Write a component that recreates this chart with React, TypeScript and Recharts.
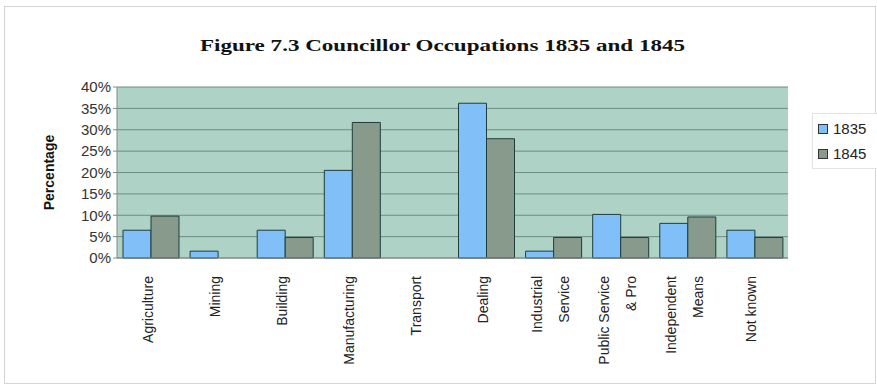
import React from 'react'
import { BarChart, Bar, XAxis, YAxis, CartesianGrid } from 'recharts'

const CATEGORIES = [
  'Agriculture',
  'Mining',
  'Building',
  'Manufacturing',
  'Transport',
  'Dealing',
  'Industrial\nService',
  'Public Service\n& Pro',
  'Independent\nMeans',
  'Not known',
]
const Y1835 = [6.5, 1.6, 6.5, 20.5, 0, 36.2, 1.6, 10.2, 8.1, 6.5]
const Y1845 = [9.8, 0, 4.8, 31.7, 0, 27.9, 4.8, 4.8, 9.6, 4.8]
const Y_TICKS = [0, 5, 10, 15, 20, 25, 30, 35, 40]

const C1835 = '#80bff7'
const C1845 = '#879a8b'
const FONT = 'Arial, "Liberation Sans", sans-serif'

const data = CATEGORIES.map((name, i) => ({ name, y1835: Y1835[i], y1845: Y1845[i] }))

function XTick({ x, y, payload }: any) {
  const lines = String(payload.value).split('\n')
  const step = 27
  const start = -((lines.length - 1) * step) / 2
  return (
    <g transform={`translate(${x},${y})`}>
      {lines.map((l, i) => (
        <text
          key={i}
          transform={`translate(${start + i * step + 2},10) rotate(-90)`}
          textAnchor="end"
          fontSize={14}
          fontFamily={FONT}
          fill="#222"
        >
          {l}
        </text>
      ))}
    </g>
  )
}

function LegendBox() {
  const items = [
    { label: '1835', color: C1835 },
    { label: '1845', color: C1845 },
  ]
  return (
    <div style={{ position: 'absolute', left: 812, top: 113, width: 66, height: 56, border: '1px solid #e4e4e4', borderRight: 'none', background: '#fff', boxSizing: 'border-box', paddingTop: 2 }}>
      {items.map(it => (
        <div key={it.label} style={{ display: 'flex', alignItems: 'center', height: 25, paddingLeft: 5 }}>
          <span style={{ width: 8, height: 8, background: it.color, border: '1px solid #333', display: 'inline-block', marginRight: 5 }} />
          <span style={{ fontSize: 15, fontFamily: FONT, color: '#222' }}>{it.label}</span>
        </div>
      ))}
    </div>
  )
}

export default function App() {
  return (
    <div style={{ position: 'absolute', left: 0, top: 0, width: 877, height: 386, background: '#fff' }}>
      <svg width={877} height={386} style={{ position: 'absolute', left: 0, top: 0 }}>
        <rect x={4.5} y={6.5} width={871} height={377} fill="none" stroke="#d4d4d4" />
        <text
          x={200}
          y={51}
          textLength={485}
          lengthAdjust="spacingAndGlyphs"
          fontFamily='"Liberation Serif", "Times New Roman", serif'
          fontWeight="bold"
          fontSize={17}
          fill="#111"
        >
          Figure 7.3 Councillor Occupations 1835 and 1845
        </text>
      </svg>
      <div style={{ position: 'absolute', left: 0, top: 0 }}>
        <BarChart
          width={877}
          height={386}
          data={data}
          margin={{ top: 87, right: 89, bottom: 8, left: 57 }}
          barCategoryGap={6}
          barGap={0}
        >
          <CartesianGrid vertical={false} stroke="#6e8d84" fill="#aed2c5" />
          <XAxis
            dataKey="name"
            interval={0}
            height={120}
            tick={<XTick />}
            tickLine={false}
            axisLine={{ stroke: '#888' }}
          />
          <YAxis
            width={60}
            domain={[0, 40]}
            ticks={Y_TICKS}
            interval={0}
            tickFormatter={(v: number) => `${v}%`}
            tick={{ fontSize: 15, fontFamily: FONT, fill: '#333' }}
            tickSize={4}
            tickLine={{ stroke: '#888' }}
            axisLine={{ stroke: '#888' }}
            label={{
              value: 'Percentage',
              angle: -90,
              position: 'insideLeft',
              offset: -8,
              style: { fontSize: 14, fontWeight: 'bold', fontFamily: FONT, fill: '#111', textAnchor: 'middle' },
            }}
          />
          <Bar dataKey="y1835" name="1835" fill={C1835} stroke="#1f3d3d" strokeWidth={1} isAnimationActive={false} />
          <Bar dataKey="y1845" name="1845" fill={C1845} stroke="#1f3d3d" strokeWidth={1} isAnimationActive={false} />
        </BarChart>
      </div>
      <LegendBox />
    </div>
  )
}
